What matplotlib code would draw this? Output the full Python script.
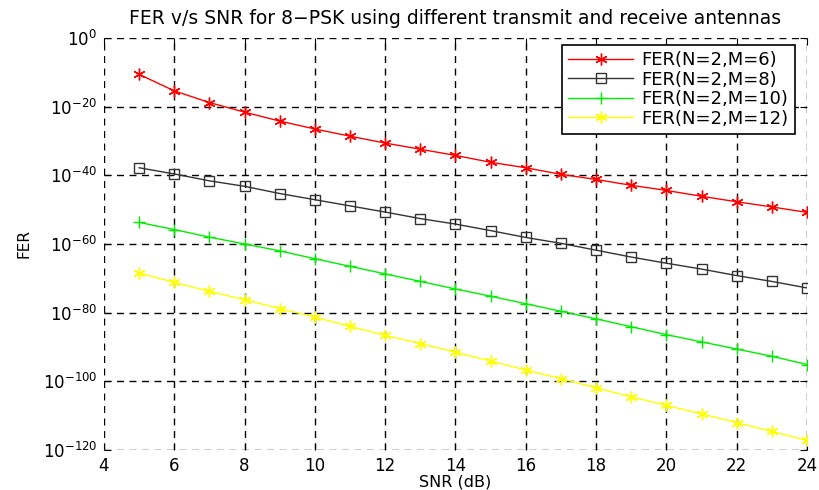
import matplotlib
matplotlib.use("Agg")
import matplotlib.pyplot as plt
import numpy as np
from matplotlib.ticker import FixedLocator, LogFormatterMathtext, NullLocator

plt.rcParams['font.family'] = ['DejaVu Sans']
plt.rcParams['mathtext.fontset'] = 'dejavusans'

snr = list(range(5, 25))
# log10(FER)
fer_m6_exp = [-10.6, -15.4, -18.8, -21.6, -24.2, -26.5, -28.6, -30.6, -32.4, -34.2,
              -36.2, -37.8, -39.7, -41.2, -42.9, -44.4, -46.1, -47.7, -49.2, -50.8]
fer_m8_exp = [-37.8, -39.6, -41.6, -43.2, -45.3, -47.1, -48.9, -50.7, -52.6, -54.2,
              -56.1, -58.1, -59.8, -61.8, -63.8, -65.6, -67.3, -69.2, -70.9, -72.8]
fer_m10_exp = [-53.7, -55.8, -58.0, -60.0, -62.0, -64.3, -66.5, -68.7, -70.9, -73.1,
               -75.2, -77.4, -79.6, -81.8, -84.1, -86.4, -88.5, -90.6, -92.7, -95.1]
fer_m12_exp = [-68.4, -71.2, -73.8, -76.2, -78.8, -81.3, -84.0, -86.6, -89.0, -91.5,
               -94.1, -96.7, -99.2, -101.9, -104.5, -107.0, -109.5, -112.0, -114.6, -117.2]
labels = ['FER(N=2,M=6)', 'FER(N=2,M=8)', 'FER(N=2,M=10)', 'FER(N=2,M=12)']
colors = ['#ff0000', '#333333', '#00ee00', '#ffff00']
y_ticks = [1e0, 1e-20, 1e-40, 1e-60, 1e-80, 1e-100, 1e-120]
x_ticks = [4, 6, 8, 10, 12, 14, 16, 18, 20, 22, 24]

fig = plt.figure(figsize=(8.2, 4.9), dpi=100)
ax = fig.add_axes([104/820, 1-450/490, (807-104)/820, (450-38)/490])

asterisk = (6, 2, 0)
series = [fer_m6_exp, fer_m8_exp, fer_m10_exp, fer_m12_exp]
markers = [asterisk, 's', '+', asterisk]
for exps, lab, col, mk in zip(series, labels, colors, markers):
    vals = [10.0 ** e for e in exps]
    kw = dict(color=col, lw=1.0, marker=mk, markersize=8.5 if mk != 's' else 7,
              label=lab, markeredgewidth=1.0)
    if mk == 's':
        kw['markerfacecolor'] = 'none'
    ax.plot(snr, vals, **kw)

ax.set_yscale('log')
ax.set_xlim(4, 24)
ax.set_ylim(1e-120, 1e0)
ax.yaxis.set_major_locator(FixedLocator(y_ticks))
ax.yaxis.set_minor_locator(NullLocator())
ax.yaxis.set_major_formatter(LogFormatterMathtext())
ax.set_xticks(x_ticks)
ax.tick_params(direction='in', top=True, right=True, labelsize=12, length=5, pad=5)
ax.grid(True, which='major', color='black', linestyle=(0, (5, 4)), linewidth=1.0)
for s in ax.spines.values():
    s.set_visible(False)

ax.set_title('FER v/s SNR for 8\u2212PSK using different transmit and receive antennas',
             fontsize=13.5, pad=10)
ax.set_xlabel('SNR (dB)', fontsize=11.5, labelpad=0)
ax.set_ylabel('FER', fontsize=11, labelpad=8)

leg = ax.legend(loc='upper right', bbox_to_anchor=(0.983, 0.983), borderaxespad=0,
                fontsize=13, fancybox=False, framealpha=1,
                edgecolor='black', handlelength=3.6, handletextpad=0.45,
                labelspacing=0.08, borderpad=0.35)
leg.get_frame().set_linewidth(1.2)

fig.savefig('out.png', dpi=100)
